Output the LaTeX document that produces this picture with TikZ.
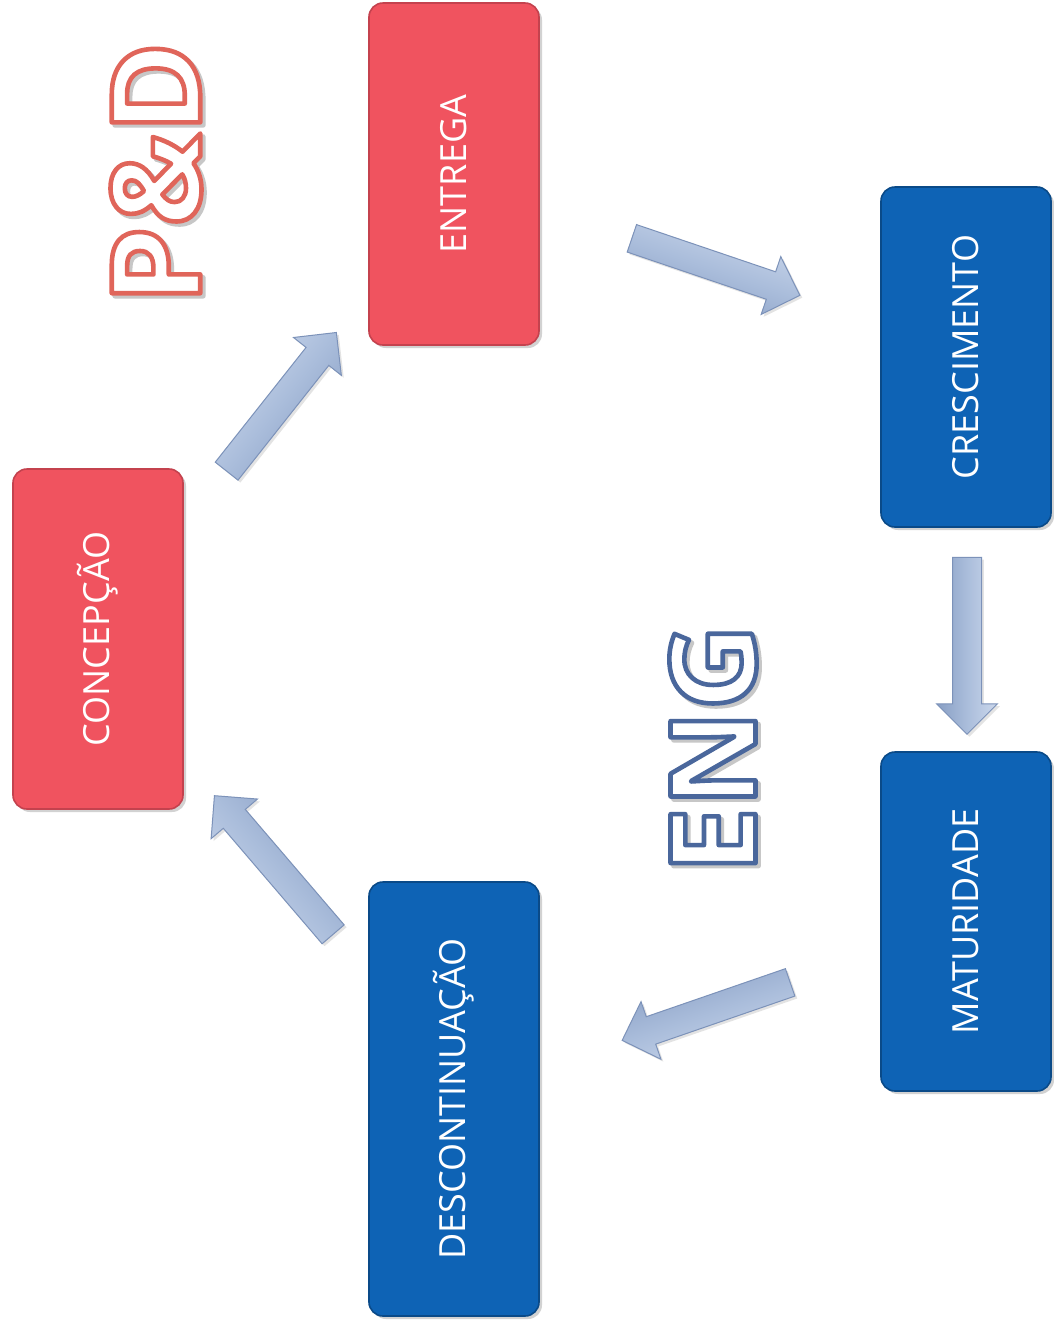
\documentclass[tikz,border=0pt]{standalone}
\usepackage{fontspec}
\setmainfont{Open Sans}
\newfontfamily\bigfont{Open Sans Bold}
\usetikzlibrary{shapes.arrows,shadows,calc}
\definecolor{redbox}{HTML}{F0535F}
\definecolor{redborder}{HTML}{C4424E}
\definecolor{bluebox}{HTML}{0E63B5}
\definecolor{blueborder}{HTML}{0A4A88}
\definecolor{arrlight}{HTML}{CCD8EC}
\definecolor{arrmid}{HTML}{AABDDB}
\definecolor{arrdark}{HTML}{889EC4}
\definecolor{arredge}{HTML}{7C92B9}
\newcommand\outl[3]{{\color{#2}\special{pdf:literal direct #1 RG 2.3 w 1 j 2 Tr}#3\special{pdf:literal direct 0 Tr}}}
\newcommand\fatarr[3]{%
  \path let \p1=($(#2)-(#1)$), \n1={atan2(\y1,\x1)}, \n2={veclen(\x1,\y1)} in
    node[fatarrow, minimum height=\n2, rotate=\n1, shading angle=\n1] (#3) at ($(#1)!0.5!(#2)$) {};}
\begin{document}
\begin{tikzpicture}[x=0.5pt,y=-0.5pt,
  box/.style={rounded corners=7pt, line width=0.8pt, inner sep=0pt,
    drop shadow={opacity=0.35, shadow xshift=1.5pt, shadow yshift=-1.5pt}},
  redb/.style={box, fill=redbox, draw=redborder},
  blueb/.style={box, fill=bluebox, draw=blueborder},
  lbl/.style={text=white, rotate=90, inner sep=0pt, font=\fontsize{18}{20}\selectfont},
  fatarrow/.style={single arrow, inner xsep=0pt, inner ysep=7pt, text height=0pt, text depth=0pt,
    minimum width=30pt,
    single arrow head extend=8pt, single arrow head indent=0pt,
    draw=arredge, line width=0.5pt,
    top color=arrlight, bottom color=arrdark, middle color=arrmid,
    drop shadow={opacity=0.22, shadow xshift=1.2pt, shadow yshift=-1.2pt}},
  big/.style={rotate=90, inner sep=0pt, font=\bigfont\fontsize{62}{64}\selectfont}
]
\useasboundingbox (0,0) rectangle (1054,1330);
\fill[white] (0,0) rectangle (1054,1330);

% boxes
\node[redb, minimum width=85pt, minimum height=171pt] (entrega) at (454,174) {};
\node[redb, minimum width=85pt, minimum height=170pt] (concepcao) at (98,639) {};
\node[blueb, minimum width=85pt, minimum height=170pt] (crescimento) at (966,357) {};
\node[blueb, minimum width=85pt, minimum height=169.5pt] (maturidade) at (966,921.5) {};
\node[blueb, minimum width=85pt, minimum height=217pt] (descont) at (454,1099) {};

\node[lbl] (lentrega) at (entrega) {ENTREGA};
\node[lbl] (lconcepcao) at (concepcao) {CONCEPÇÃO};
\node[lbl] (lcrescimento) at (crescimento) {CRESCIMENTO};
\node[lbl] (lmaturidade) at (maturidade) {MATURIDADE};
\node[lbl] (ldescont) at (descont) {DESCONTINUAÇÃO};

% arrows
\coordinate (s1) at (222,477); \coordinate (e1) at (332,338);
\coordinate (s2) at (625,236); \coordinate (e2) at (793,293);
\coordinate (s3) at (967,550); \coordinate (e3) at (967,727);
\coordinate (s4) at (797,980); \coordinate (e4) at (629,1038);
\coordinate (s5) at (338,940); \coordinate (e5) at (219,801);
\fatarr{s1}{e1}{a1}
\fatarr{s2}{e2}{a2}
\fatarr{s3}{e3}{a3}
\fatarr{s4}{e4}{a4}
\fatarr{s5}{e5}{a5}

% outline titles
\node[big] (pdshadow) at (159,176) {\outl{0.78 0.78 0.78}{black!18}{P\&D}};
\node[big] (pd) at (156,173) {\outl{0.878 0.396 0.353}{white}{P\&D}};
\node[big, font=\bigfont\fontsize{59.5}{61}\selectfont] (engshadow) at (716,752) {\outl{0.78 0.78 0.78}{black!18}{ENG}};
\node[big, font=\bigfont\fontsize{59.5}{61}\selectfont] (eng) at (713,749) {\outl{0.290 0.404 0.612}{white}{ENG}};
\end{tikzpicture}
\end{document}
